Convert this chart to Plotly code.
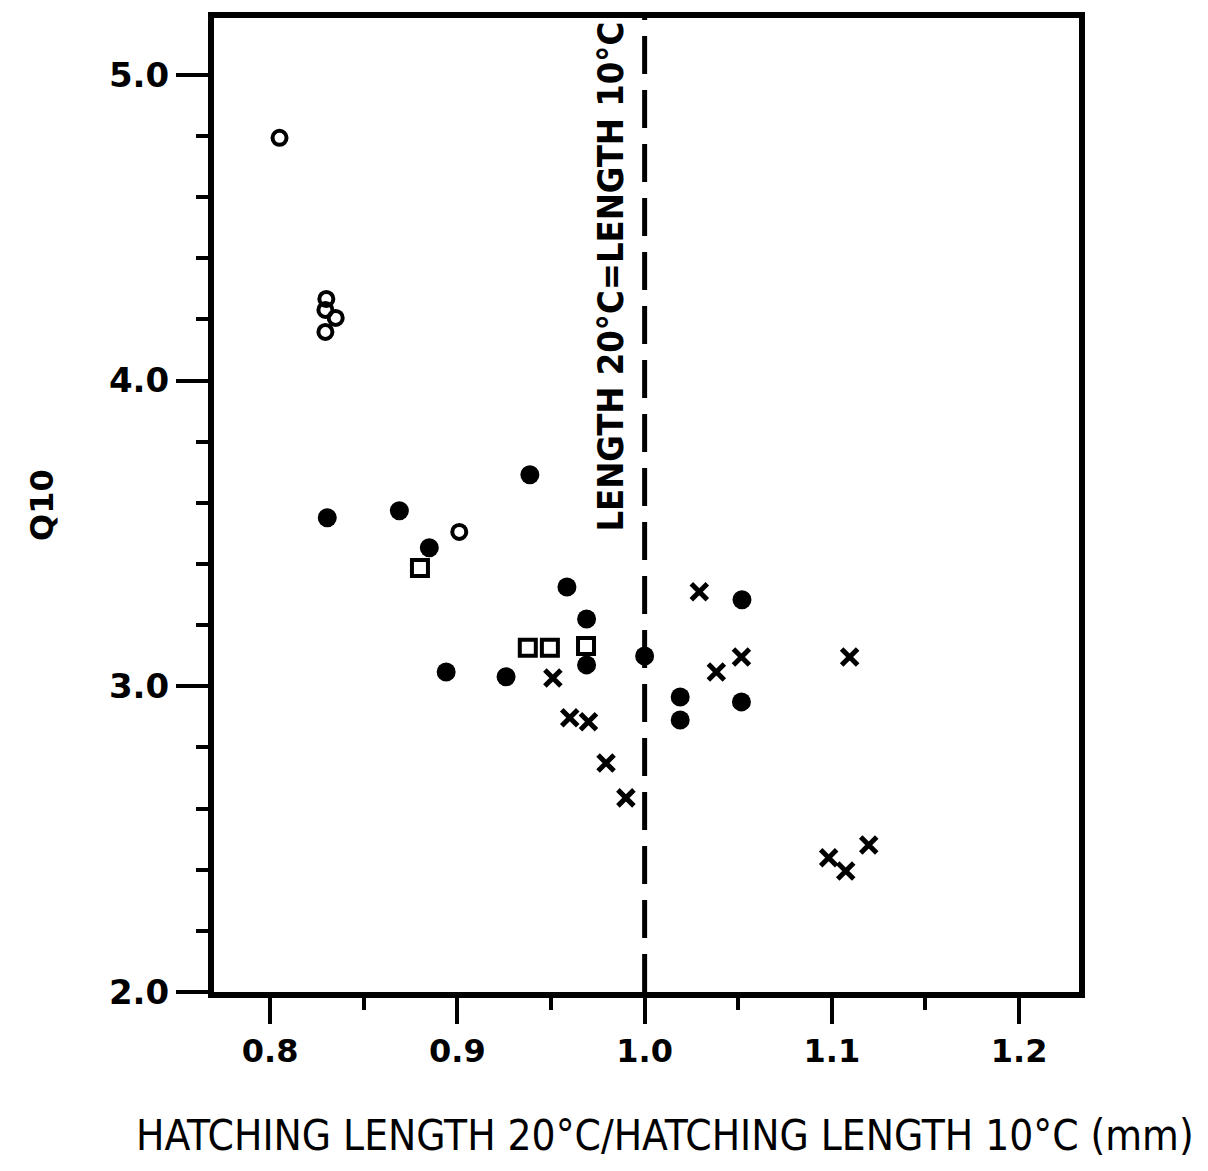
import plotly.graph_objects as go

# open circles
oc_x = [0.805, 0.830, 0.8295, 0.835, 0.8295, 0.901]
oc_y = [4.794, 4.267, 4.231, 4.205, 4.159, 3.505]
# filled circles
fc_x = [0.8305, 0.869, 0.885, 0.9387, 0.894, 0.926, 0.9585, 0.969, 0.969, 1.000, 1.019, 1.019, 1.052, 1.0517]
fc_y = [3.551, 3.574, 3.453, 3.692, 3.047, 3.031, 3.325, 3.220, 3.070, 3.099, 2.965, 2.890, 3.283, 2.949]
# open squares
sq_x = [0.880, 0.9376, 0.9494, 0.9687]
sq_y = [3.387, 3.126, 3.126, 3.132]
# crosses
xx_x = [0.951, 0.960, 0.970, 0.9794, 0.990, 1.0292, 1.0383, 1.0517, 1.1095, 1.0983, 1.1074, 1.1197]
xx_y = [3.027, 2.897, 2.884, 2.749, 2.635, 3.309, 3.047, 3.096, 3.096, 2.439, 2.396, 2.481]

x_range = [0.770, 1.232]
y_range = [2.0, 5.186]
x_major = [0.8, 0.9, 1.0, 1.1, 1.2]
x_labels = ["0.8", "0.9", "1.0", "1.1", "1.2"]
y_major = [2.0, 3.0, 4.0, 5.0]
y_labels = ["2.0", "3.0", "4.0", "5.0"]

fig = go.Figure()
fig.add_trace(go.Scatter(x=oc_x, y=oc_y, mode="markers",
                         marker=dict(symbol="circle-open", size=14, color="black", line=dict(width=4, color="black"))))
fig.add_trace(go.Scatter(x=fc_x, y=fc_y, mode="markers",
                         marker=dict(symbol="circle", size=19, color="black", line=dict(width=0))))
fig.add_trace(go.Scatter(x=sq_x, y=sq_y, mode="markers",
                         marker=dict(symbol="square-open", size=16, color="black", line=dict(width=4, color="black"))))
fig.add_trace(go.Scatter(x=xx_x, y=xx_y, mode="markers",
                         marker=dict(symbol="x-thin", size=16, color="black", line=dict(width=5, color="black"))))

fig.add_shape(type="line", x0=1.0, x1=1.0, y0=0, y1=1, xref="x", yref="paper",
              line=dict(color="black", width=5, dash="38px,16px"))

fig.add_annotation(x=0.982, y=4.34, xref="x", yref="y", text="LENGTH 20°C=LENGTH 10°C",
                   textangle=-90, showarrow=False,
                   font=dict(family="DejaVu Sans Condensed, DejaVu Sans", size=36, color="black", weight="bold"))

fig.add_annotation(x=0.521, y=-0.147, xref="paper", yref="paper", xanchor="center", yanchor="middle",
                   text="HATCHING LENGTH 20°C/HATCHING LENGTH 10°C (mm)", showarrow=False,
                   font=dict(family="DejaVu Sans Condensed, DejaVu Sans", size=42, color="black"))

tickfont_y = dict(family="DejaVu Sans", size=34, color="black", weight="bold")
tickfont_x = dict(family="DejaVu Sans", size=32, color="black", weight="bold")

fig.update_xaxes(range=x_range, tickvals=x_major, ticktext=x_labels, ticks="outside", ticklen=26,
                 tickwidth=4, tickcolor="black", showline=True, linewidth=6, linecolor="black", mirror=True,
                 showgrid=False, zeroline=False, tickfont=tickfont_x,
                 minor=dict(tickvals=[0.85, 0.95, 1.05, 1.15], ticks="outside", ticklen=12, tickwidth=4, tickcolor="black", showgrid=False))
fig.update_yaxes(range=y_range, tickvals=y_major, ticktext=y_labels, ticks="outside", ticklen=32,
                 tickwidth=4, tickcolor="black", showline=True, linewidth=6, linecolor="black", mirror=True,
                 showgrid=False, zeroline=False, tickfont=tickfont_y,
                 minor=dict(tickvals=[2.2, 2.4, 2.6, 2.8, 3.2, 3.4, 3.6, 3.8, 4.2, 4.4, 4.6, 4.8], ticks="outside",
                            ticklen=12, tickwidth=4, tickcolor="black", showgrid=False),
                 title=dict(text="Q10", standoff=48,
                            font=dict(family="DejaVu Sans", size=32, color="black", weight="bold")))

fig.update_layout(width=1208, height=1171, margin=dict(l=214, r=129, t=18, b=179),
                  plot_bgcolor="white", paper_bgcolor="white", showlegend=False)

fig.write_html("out.html")
